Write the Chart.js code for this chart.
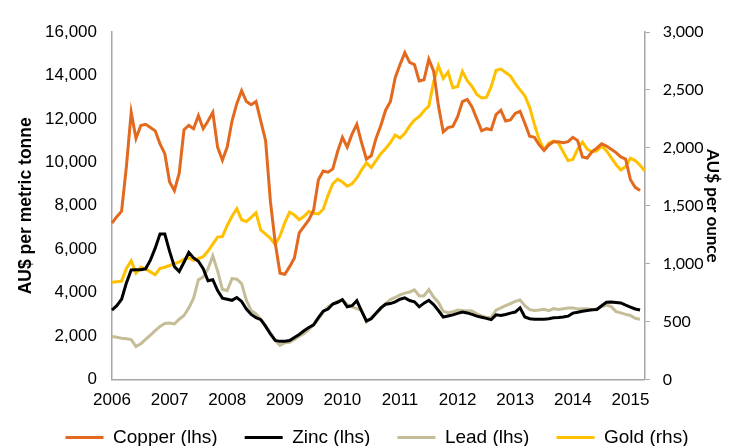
<!DOCTYPE html>
<html>
<head>
<meta charset="utf-8">
<script src="https://cdn.jsdelivr.net/npm/chart.js@4"></script>
<style>
  html, body { margin: 0; padding: 0; background: #fff; }
</style>
</head>
<body>
<canvas id="myChart" width="735" height="446"></canvas>
<script>
// monthly, Jan 2006 .. Apr 2015
const years = ["2006", "2007", "2008", "2009", "2010", "2011", "2012", "2013", "2014", "2015"];
const monthNames = ["Jan", "Feb", "Mar", "Apr", "May", "Jun", "Jul", "Aug", "Sep", "Oct", "Nov", "Dec"];
const months = [];
years.forEach((y) => monthNames.forEach((m) => months.push(m + " " + y)));
months.splice(112); // up to Apr 2015

// AU$ per tonne (lhs)
const copper = [
  7200, 7500, 7750, 9800, 12300, 11100, 11700, 11750, 11600, 11450, 10850, 10400,
  9100, 8700, 9500, 11500, 11700, 11550, 12150, 11550, 11900, 12300, 10700, 10100,
  10700, 11900, 12700, 13300, 12800, 12650, 12800, 11900, 11000, 8200, 6300, 4900,
  4850, 5200, 5600, 6750, 7050, 7350, 7800, 9200, 9600, 9550, 9700, 10500,
  11150, 10700, 11300, 11750, 10900, 10150, 10300, 11100, 11700, 12400, 12800, 13900,
  14500, 15050, 14600, 14500, 13750, 13800, 14750, 14200, 12600, 11400, 11600, 11650,
  12100, 12800, 12900, 12550, 12000, 11450, 11550, 11500, 12200, 12400, 11900, 11950,
  12250, 12350, 11800, 11200, 11150, 10800, 10550, 10800, 10950, 10950, 10900, 10950,
  11150, 11000, 10250, 10200, 10500, 10650, 10850, 10750, 10600, 10450, 10250, 10150,
  9200, 8850, 8700
];
const zinc = [
  3200, 3400, 3700, 4450, 5050, 5060, 5060, 5100, 5500, 6050, 6700, 6700,
  5900, 5200, 4980, 5400, 5850, 5600, 5450, 5100, 4550, 4600, 4100, 3750,
  3700, 3650, 3780, 3600, 3250, 3000, 2850, 2760, 2450, 2100, 1800, 1760,
  1770, 1800, 1940, 2080, 2250, 2400, 2520, 2850, 3150, 3250, 3480, 3560,
  3680, 3350, 3400, 3630, 3150, 2700, 2800, 3050, 3300, 3470, 3500, 3580,
  3700, 3760, 3640, 3580, 3350, 3520, 3650, 3450, 3180, 2880, 2930, 2980,
  3050, 3110, 3070, 3000, 2920, 2870, 2820, 2760, 2980, 2950, 3000, 3060,
  3110, 3300, 2880, 2800, 2780, 2780, 2780, 2800, 2850, 2860, 2880, 2920,
  3060, 3100, 3150, 3180, 3210, 3230, 3400, 3560, 3570, 3550, 3530, 3430,
  3340, 3250, 3200
];
const lead = [
  1980, 1950, 1900, 1880, 1840, 1520, 1650, 1850, 2050, 2250, 2450, 2580,
  2600, 2560, 2780, 2950, 3300, 3750, 4600, 4720, 5100, 5700, 5000, 4150,
  4100, 4650, 4620, 4420, 3650, 3180, 3020, 2770, 2480, 2150, 1800, 1580,
  1700, 1720, 1850, 2000, 2120, 2300, 2520, 2800, 3100, 3350, 3480, 3600,
  3680, 3450, 3350, 3270, 3170, 2650, 2850, 3050, 3250, 3500, 3680, 3780,
  3900, 3980, 4030, 4130, 3850, 3860, 4140, 3800, 3550, 3150, 3080, 3120,
  3200, 3180, 3170, 3160, 3030, 2930, 2860, 2860, 3200, 3300, 3400, 3500,
  3600, 3670, 3400, 3220, 3180, 3200, 3240, 3170, 3270, 3230, 3260, 3300,
  3300, 3250, 3260, 3260, 3210, 3260, 3350, 3430, 3360, 3130, 3070, 3000,
  2950, 2820, 2780
];
// AU$ per ounce (rhs)
const gold = [
  840, 845, 850, 960, 1025, 920, 970, 955, 930, 905, 960, 970,
  985, 1000, 1015, 1040, 1050, 1030, 1045, 1060, 1110, 1170, 1230, 1235,
  1330, 1410, 1475, 1380, 1365, 1400, 1440, 1290, 1255, 1220, 1165, 1240,
  1355, 1445, 1420, 1380, 1410, 1450, 1435, 1430, 1470, 1590, 1690, 1730,
  1705, 1670, 1690, 1740, 1810, 1870, 1830, 1890, 1950, 1995, 2045, 2110,
  2085, 2125, 2190, 2240, 2270, 2320, 2360, 2570, 2710, 2600, 2655, 2520,
  2530, 2660, 2580, 2530, 2460, 2430, 2435, 2530, 2670, 2680, 2650, 2620,
  2555, 2500, 2450, 2350, 2200, 2070, 1985, 2040, 2060, 2040, 1965, 1890,
  1900, 1990, 2050, 1990, 1965, 1975, 2015, 1975, 1915, 1855, 1810, 1840,
  1910, 1890, 1850, 1800
];

const seriesNames = ["Copper (lhs)", "Zinc (lhs)", "Lead (lhs)", "Gold (rhs)"];
const seriesColors = ["#E2691E", "#000000", "#C4BD97", "#FFC000"];

const axisGray = "#A6A6A6";

function line(i, data, axis) {
  return {
    label: seriesNames[i],
    data: data,
    yAxisID: axis,
    borderColor: seriesColors[i],
    backgroundColor: seriesColors[i],
    borderWidth: 3,
    pointRadius: 0,
    tension: 0,
    fill: false,
  };
}

const ctx = document.getElementById("myChart");
new Chart(ctx, {
  type: "line",
  data: {
    labels: months,
    datasets: [
      line(0, copper, "y"),
      line(1, zinc, "y"),
      line(2, lead, "y"),
      line(3, gold, "y1"),
    ],
  },
  options: {
    responsive: false,
    animation: false,
    layout: { padding: { left: 30, right: 11, top: 32, bottom: -11 } },
    plugins: {
      tooltip: { enabled: false },
      legend: {
        position: "bottom",
        labels: {
          usePointStyle: true,
          pointStyle: "line",
          pointStyleWidth: 38,
          padding: 6,
          color: "#000",
          font: { family: "Liberation Sans", size: 19 },
          // extra trailing spaces widen the gap between items
          generateLabels: function (chart) {
            const items = Chart.defaults.plugins.legend.labels.generateLabels(chart);
            items.forEach((it, i) => {
              if (i < items.length - 1) it.text = it.text + "    ";
            });
            return items;
          },
        },
      },
    },
    scales: {
      x: {
        grid: { display: false, drawTicks: false },
        border: { display: true, color: axisGray, width: 1.5 },
        ticks: {
          autoSkip: false,
          maxRotation: 0,
          padding: 11,
          color: "#000",
          font: { family: "Liberation Sans", size: 17 },
          callback: function (value, index) {
            const m = months[index];
            return m.startsWith("Jan") ? m.slice(4) : null;
          },
        },
      },
      y: {
        position: "left",
        min: 0,
        max: 16000,
        grid: { display: false, drawTicks: false },
        border: { display: true, color: axisGray, width: 1.5 },
        ticks: {
          stepSize: 2000,
          padding: 15,
          color: "#000",
          font: { family: "Liberation Sans", size: 17 },
          callback: (v) => v.toLocaleString("en-US"),
        },
        title: {
          display: true,
          text: "AU$ per metric tonne",
          color: "#000",
          padding: { top: -14, bottom: -7 },
          font: { family: "Liberation Sans", size: 17.5, weight: "bold" },
        },
      },
      y1: {
        position: "right",
        min: 0,
        max: 3000,
        grid: { display: true, drawOnChartArea: false, drawTicks: true, tickLength: 5, color: axisGray },
        border: { display: true, color: axisGray, width: 1.5 },
        ticks: {
          stepSize: 500,
          padding: 13,
          color: "#000",
          font: { family: "Lato", size: 16 },
          callback: (v) => v.toLocaleString("en-US"),
        },
        title: {
          display: true,
          text: "AU$ per ounce",
          color: "#000",
          padding: { top: 1, bottom: -14 },
          font: { family: "Lato", size: 17, weight: "bold" },
        },
      },
    },
  },
});
</script>
</body>
</html>
